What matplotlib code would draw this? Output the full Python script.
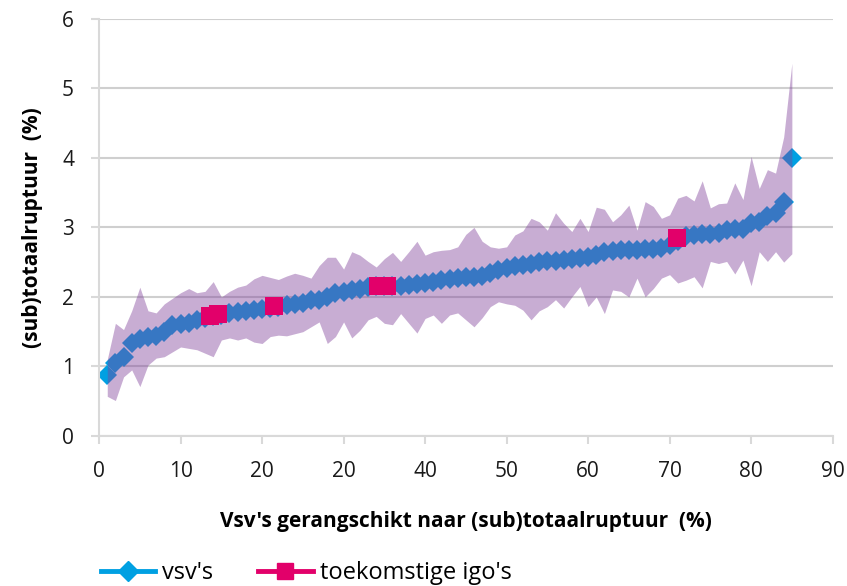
import numpy as np
import matplotlib.pyplot as plt
from matplotlib.lines import Line2D

# vsv's ranked by (sub)totaalruptuur
rank = list(range(1, 86))
vsv = [0.88, 1.05, 1.13, 1.33, 1.40, 1.43, 1.44, 1.50, 1.60, 1.61,
       1.62, 1.67, 1.70, 1.72, 1.74, 1.77, 1.79, 1.80, 1.81, 1.82,
       1.84, 1.86, 1.885, 1.90, 1.91, 1.95, 1.96, 2.00, 2.05, 2.07,
       2.10, 2.12, 2.14, 2.15, 2.15, 2.15, 2.16, 2.17, 2.19, 2.20,
       2.21, 2.24, 2.26, 2.27, 2.28, 2.29, 2.30, 2.34, 2.38, 2.41,
       2.44, 2.46, 2.47, 2.50, 2.51, 2.52, 2.53, 2.55, 2.56, 2.57,
       2.60, 2.65, 2.66, 2.67, 2.68, 2.68, 2.69, 2.69, 2.70, 2.75,
       2.81, 2.87, 2.89, 2.90, 2.91, 2.92, 2.96, 2.97, 2.98, 3.06,
       3.08, 3.16, 3.21, 3.37, 4.00]

# spread band (upper / lower)
upper = [1.10, 1.62, 1.53, 1.80, 2.14, 1.80, 1.77, 1.90, 1.98, 2.06,
         2.12, 2.06, 2.08, 2.22, 2.00, 2.08, 2.14, 2.17, 2.26, 2.31,
         2.28, 2.25, 2.30, 2.34, 2.31, 2.27, 2.45, 2.57, 2.57, 2.40,
         2.65, 2.60, 2.51, 2.43, 2.55, 2.64, 2.51, 2.65, 2.80, 2.60,
         2.65, 2.67, 2.68, 2.72, 2.90, 3.00, 2.80, 2.72, 2.70, 2.72,
         2.89, 2.95, 3.13, 3.08, 2.96, 3.21, 3.06, 2.94, 3.13, 2.94,
         3.29, 3.26, 3.08, 3.18, 3.32, 2.96, 3.37, 3.30, 3.13, 3.18,
         3.42, 3.46, 3.38, 3.67, 3.28, 3.34, 3.35, 3.64, 3.40, 4.02,
         3.56, 3.83, 3.78, 4.30, 5.36]
lower = [0.57, 0.51, 0.85, 0.95, 0.71, 1.02, 1.12, 1.14, 1.21, 1.28,
         1.26, 1.24, 1.19, 1.14, 1.38, 1.41, 1.38, 1.41, 1.35, 1.33,
         1.43, 1.45, 1.44, 1.47, 1.50, 1.57, 1.64, 1.33, 1.43, 1.64,
         1.41, 1.52, 1.67, 1.72, 1.62, 1.60, 1.76, 1.62, 1.48, 1.69,
         1.74, 1.62, 1.74, 1.77, 1.67, 1.57, 1.70, 1.86, 1.93, 1.90,
         1.88, 1.81, 1.67, 1.80, 1.86, 1.96, 1.84, 2.00, 2.15, 1.86,
         2.00, 1.76, 2.10, 2.08, 2.00, 2.27, 2.00, 2.12, 2.27, 2.32,
         2.20, 2.24, 2.29, 2.13, 2.51, 2.48, 2.51, 2.33, 2.53, 2.16,
         2.65, 2.51, 2.65, 2.50, 2.62]

# toekomstige igo's
igo_x = [13.6, 14.6, 21.4, 34.2, 35.3, 70.9]
igo_y = [1.72, 1.76, 1.87, 2.15, 2.15, 2.84]

xticks = [0, 10, 20, 30, 40, 50, 60, 70, 80, 90]
xtick_labels = ['0', '10', '20', '20', '40', '50', '60', '70', '80', '90']

blue = '#00A0E2'
pink = '#E2006A'
purple = '#80419B'
grid_c = '#CFCFCF'

plt.rcParams['font.family'] = ['Open Sans', 'DejaVu Sans']

fig = plt.figure(figsize=(8.47, 5.86), dpi=100)
ax = fig.add_axes([0.117, 0.256, 0.866, 0.712])

ax.plot(rank, vsv, linestyle='none', marker='D', markersize=10.5,
        color=blue, markeredgewidth=0, zorder=2)
ax.fill_between(rank, lower, upper, color=purple, alpha=0.43,
                linewidth=0, zorder=3)
ax.plot(igo_x, igo_y, linestyle='none', marker='s', markersize=13.5,
        color=pink, markeredgewidth=0, zorder=4)

ax.set_xlim(0, 90)
ax.set_ylim(0, 6)
ax.set_xticks(xticks)
ax.set_xticklabels(xtick_labels)
ax.set_yticks(range(0, 7))

ax.grid(axis='y', color=grid_c, linewidth=1.5, zorder=1)
ax.set_axisbelow(True)
for s in ['top', 'right']:
    ax.spines[s].set_visible(False)
for s in ['left', 'bottom']:
    ax.spines[s].set_color('#D9D9D9')
    ax.spines[s].set_linewidth(1.5)

ax.tick_params(axis='both', colors='#D9D9D9', length=6, width=1.5,
               labelcolor='#1A1A1A', labelsize=15)
ax.tick_params(axis='y', pad=12)
ax.tick_params(axis='x', pad=12)

ax.set_xlabel("Vsv's gerangschikt naar (sub)totaalruptuur  (%)",
              fontsize=15, fontweight='bold', labelpad=21)
ax.set_ylabel("(sub)totaalruptuur  (%)", fontsize=15,
              fontweight='bold', labelpad=14)

handles = [
    Line2D([], [], color=blue, linewidth=3.5, marker='D', markersize=10),
    Line2D([], [], color=pink, linewidth=3.5, marker='s', markersize=11),
]
fig.legend(handles, ["vsv's", "toekomstige igo's"], loc='lower left',
           bbox_to_anchor=(0.094, -0.035), ncol=2, frameon=False,
           fontsize=17, handlelength=2.3, handletextpad=0.3,
           columnspacing=1.9)

fig.savefig('out.png', dpi=100)
